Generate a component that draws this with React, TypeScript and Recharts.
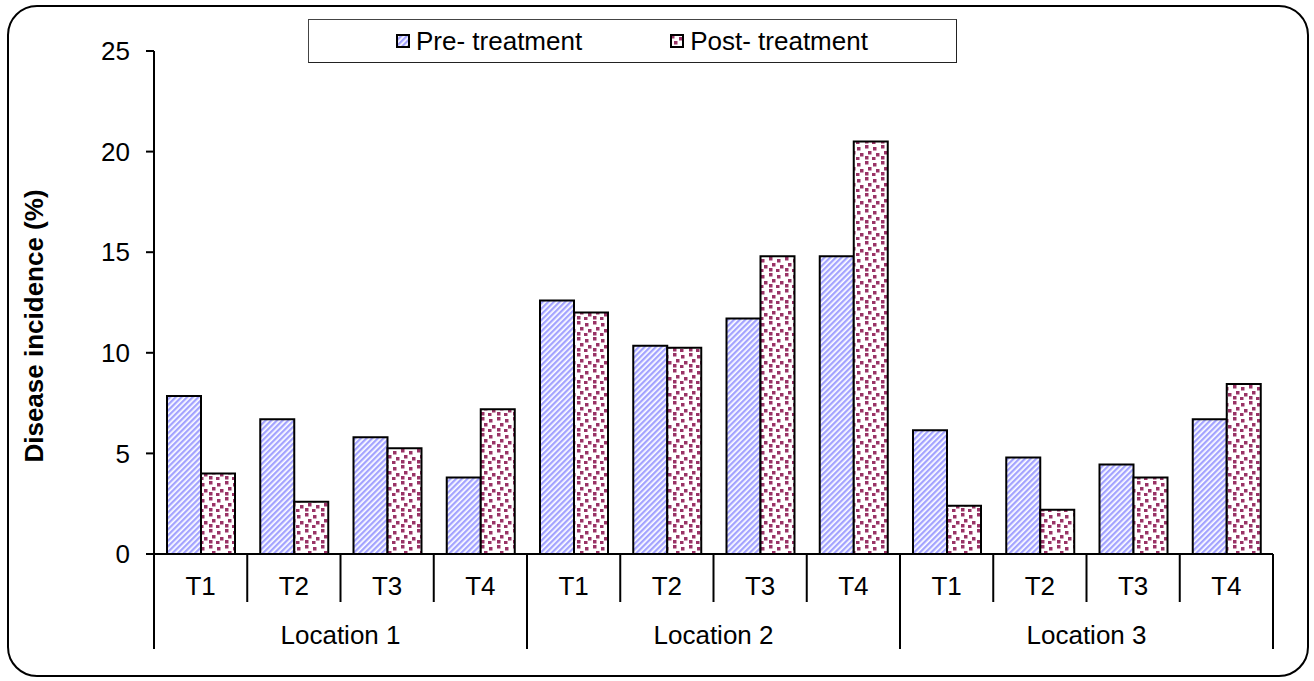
import React from "react";
import { BarChart, Bar, XAxis, YAxis, Legend } from "recharts";

const treatments = ["T1", "T2", "T3", "T4", "T1", "T2", "T3", "T4", "T1", "T2", "T3", "T4"];
const locations = ["Location 1", "Location 2", "Location 3"];
const preTreatment = [7.85, 6.7, 5.8, 3.8, 12.6, 10.35, 11.7, 14.8, 6.15, 4.8, 4.45, 6.7];
const postTreatment = [4.0, 2.6, 5.25, 7.2, 12.0, 10.25, 14.8, 20.5, 2.4, 2.2, 3.8, 8.45];
const yTicks = [0, 5, 10, 15, 20, 25];
const seriesNames = ["Pre- treatment", "Post- treatment"];
const yLabel = "Disease incidence (%)";

const data = treatments.map((t, i) => ({
  t,
  loc: locations[Math.floor(i / 4)],
  pre: preTreatment[i],
  post: postTreatment[i],
}));

const FONT = '"Liberation Sans", Arial, Helvetica, sans-serif';
const W = 1314;
const H = 681;
const MARGIN = { top: 51, right: 41, left: 54, bottom: 27 };
const Y_AXIS_W = 100;
const PLOT_W = W - MARGIN.left - Y_AXIS_W - MARGIN.right;
const BAND = PLOT_W / treatments.length;
const PER_GROUP = 4;

function XTick(props: any) {
  const { x, y, payload } = props;
  const idx = payload && typeof payload.index === "number" ? payload.index : props.index;
  const half = payload && payload.offset > 0 ? payload.offset : BAND / 2;
  const groupStart = idx % PER_GROUP === 0;
  const isLast = idx === treatments.length - 1;
  return (
    <g>
      <line x1={x - half} x2={x - half} y1={y} y2={y + (groupStart ? 95 : 48)} stroke="#000" strokeWidth={2} />
      {isLast && <line x1={x + half} x2={x + half} y1={y} y2={y + 95} stroke="#000" strokeWidth={2} />}
      <text x={x} y={y + 41} textAnchor="middle" fontSize={26} fill="#000" fontFamily={FONT}>
        {payload.value}
      </text>
      {idx % PER_GROUP === 1 && (
        <text x={x + half} y={y + 90} textAnchor="middle" fontSize={26} fill="#000" fontFamily={FONT}>
          {locations[Math.floor(idx / PER_GROUP)]}
        </text>
      )}
    </g>
  );
}

function YLabel() {
  const cx = 34;
  const cy = 326;
  return (
    <text
      x={cx}
      y={cy}
      transform={`rotate(-90 ${cx} ${cy})`}
      textAnchor="middle"
      dominantBaseline="central"
      fontSize={26}
      fontWeight="bold"
      fill="#000"
      fontFamily={FONT}
    >
      {yLabel}
    </text>
  );
}

function LegendIcon({ pattern }: { pattern: string }) {
  return (
    <svg width={14} height={14} style={{ display: "block" }}>
      <rect x={1} y={1} width={12} height={12} fill={`url(#${pattern})`} stroke="#000" strokeWidth={2} />
    </svg>
  );
}

function LegendBox() {
  const item = (pattern: string, label: string, ml: number) => (
    <div style={{ display: "flex", alignItems: "center", marginLeft: ml }}>
      <LegendIcon pattern={pattern} />
      <span style={{ marginLeft: 6, lineHeight: "26px" }}>{label}</span>
    </div>
  );
  return (
    <div
      style={{
        boxSizing: "border-box",
        width: 649,
        height: 44,
        border: "1px solid #444",
        borderRightColor: "#222",
        borderBottomColor: "#222",
        background: "#fff",
        display: "flex",
        alignItems: "center",
        fontFamily: FONT,
        fontSize: 26,
        color: "#000",
      }}
    >
      {item("preStripe", seriesNames[0], 87)}
      {item("postConfetti", seriesNames[1], 88)}
    </div>
  );
}

export default function App() {
  return (
    <div style={{ position: "absolute", left: 0, top: 0, width: W, height: H, background: "#fff", fontFamily: FONT }}>
      <svg width={0} height={0} style={{ position: "absolute" }}>
        <defs>
          <pattern id="preStripe" patternUnits="userSpaceOnUse" width={4} height={4} patternTransform="rotate(45)">
            <rect width={4} height={4} fill="#ffffff" />
            <rect width={2.3} height={4} fill="#a3a3ff" />
          </pattern>
          <pattern id="postConfetti" patternUnits="userSpaceOnUse" width={16} height={16}>
            <rect width={16} height={16} fill="#ffffff" />
            <rect x={1} y={1} width={3.5} height={3.5} fill="#993366" />
            <rect x={9} y={3} width={3.5} height={3.5} fill="#993366" />
            <rect x={4} y={7} width={3.5} height={3.5} fill="#993366" />
            <rect x={12} y={9} width={3.5} height={3.5} fill="#993366" />
            <rect x={1} y={12} width={3.5} height={3.5} fill="#993366" />
            <rect x={8} y={13} width={3.5} height={3.5} fill="#993366" />
          </pattern>
        </defs>
      </svg>
      <div
        style={{
          position: "absolute",
          left: 7,
          top: 5,
          width: 1302,
          height: 672,
          boxSizing: "border-box",
          border: "2px solid #000",
          borderRadius: 30,
        }}
      />
      <div style={{ position: "absolute", left: 0, top: 0 }}>
        <BarChart width={W} height={H} data={data} margin={MARGIN} barGap={0}>
          <YAxis
            type="number"
            domain={[0, 25]}
            ticks={yTicks}
            interval={0}
            width={Y_AXIS_W}
            tickSize={8}
            tickMargin={16}
            axisLine={{ stroke: "#000", strokeWidth: 2 }}
            tickLine={{ stroke: "#000", strokeWidth: 2 }}
            tick={{ fontSize: 26, fill: "#000", fontFamily: FONT }}
            label={<YLabel />}
          />
          <XAxis
            dataKey="t"
            type="category"
            interval={0}
            height={100}
            tickLine={false}
            tickSize={0}
            tickMargin={0}
            axisLine={{ stroke: "#000", strokeWidth: 2 }}
            tick={(p: any) => <XTick {...p} />}
          />
          <Legend
            layout="horizontal"
            verticalAlign="middle"
            align="center"
            content={<LegendBox />}
            wrapperStyle={{ left: 308, top: 19, width: 649, height: 44 }}
          />
          <Bar
            dataKey="pre"
            name={seriesNames[0]}
            fill="url(#preStripe)"
            stroke="#000"
            strokeWidth={2}
            barSize={34}
            isAnimationActive={false}
          />
          <Bar
            dataKey="post"
            name={seriesNames[1]}
            fill="url(#postConfetti)"
            stroke="#000"
            strokeWidth={2}
            barSize={34}
            isAnimationActive={false}
          />
        </BarChart>
      </div>
    </div>
  );
}
